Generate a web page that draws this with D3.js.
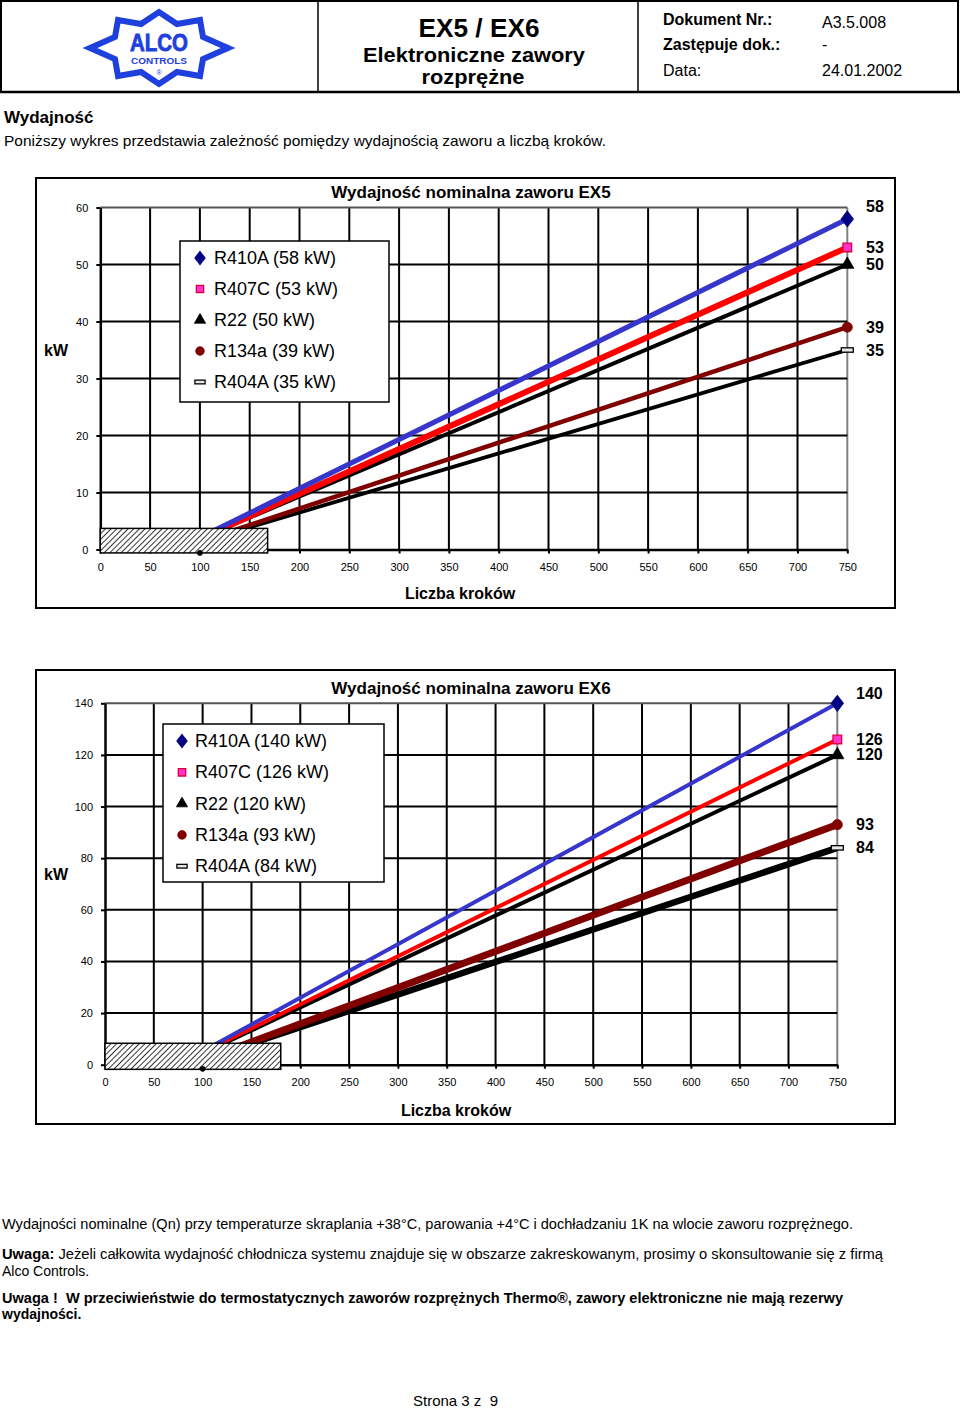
<!DOCTYPE html>
<html><head><meta charset="utf-8">
<script src="https://cdn.jsdelivr.net/npm/d3@7"></script>
<style>
body{margin:0;background:#fff}
svg{display:block}
text{font-family:"Liberation Sans",Arial,Helvetica,sans-serif}
</style>
</head><body>
<svg id="page" width="960" height="1408"></svg>
<script>
// ---------------- DATA ----------------
const refrigerants = ["R410A", "R407C", "R22", "R134a", "R404A"];
const stepPoints = [100, 750];                 // steps where each line is defined
const ex5StartKW = [2.1, 1.9, 1.9, 1.4, 1.3];  // kW at 100 steps (hidden by hatch)
const ex5EndKW = [58, 53, 50, 39, 35];         // kW at 750 steps
const ex6StartKW = [5.2, 4.7, 4.4, 1.8, 1.9];
const ex6EndKW = [140, 126, 120, 93, 84];
const xTicks = [0, 50, 100, 150, 200, 250, 300, 350, 400, 450, 500, 550, 600, 650, 700, 750];
const ex5YTicks = [0, 10, 20, 30, 40, 50, 60];
const ex6YTicks = [0, 20, 40, 60, 80, 100, 120, 140];
const ex5HatchSteps = [0, 168];
const ex5HatchKW = [-0.6, 3.7];
const ex6HatchSteps = [0, 180];
const ex6HatchKW = [-1.8, 8.3];
const ex5OriginDot = [100, -0.6];
const ex6OriginDot = [100, -1.6];

// ---------------- STYLE ----------------
const FONT = '"Liberation Sans",Arial,Helvetica,sans-serif';
const lineColors = ["#3636cc", "#ff0000", "#000000", "#800000", "#000000"];
const markerFill = ["#000080", "#ff33cc", "#000000", "#800000", "#e6e6e6"];
const markerStroke = ["#000080", "#e0003c", "#000000", "#800000", "#000000"];
const markerType = ["diamond", "square", "triangle", "circle", "dash"];

const svg = d3.select("#page");
svg.append("rect").attr("width", 960).attr("height", 1408).attr("fill", "#fff");

const defs = svg.append("defs");
const pat = defs.append("pattern").attr("id", "hatch").attr("patternUnits", "userSpaceOnUse")
  .attr("width", 4).attr("height", 4).attr("patternTransform", "rotate(45)");
pat.append("rect").attr("width", 4).attr("height", 4).attr("fill", "#fff");
pat.append("line").attr("x1", 0).attr("y1", 0).attr("x2", 0).attr("y2", 4)
  .attr("stroke", "#000").attr("stroke-width", 1.6);

function txt(g, x, y, s, size, opts = {}) {
  const t = g.append("text").attr("x", x).attr("y", y).attr("font-size", size)
    .attr("dominant-baseline", "central")
    .attr("text-anchor", opts.anchor || "start")
    .attr("font-weight", opts.bold ? "bold" : "normal")
    .attr("fill", opts.fill || "#000")
    .style("white-space", "pre")
    .text(s);
  if (opts.len) t.attr("textLength", opts.len).attr("lengthAdjust", "spacingAndGlyphs");
  return t;
}

// ---------------- HEADER ----------------
const hdr = svg.append("g");
hdr.append("rect").attr("x", 1).attr("y", 1).attr("width", 957).attr("height", 91)
  .attr("fill", "none").attr("stroke", "#000").attr("stroke-width", 2);
hdr.append("line").attr("x1", 0).attr("x2", 960).attr("y1", 92).attr("y2", 92).attr("stroke", "#000").attr("stroke-width", 2.5);
[318, 638].forEach(x => hdr.append("line").attr("x1", x).attr("x2", x).attr("y1", 1).attr("y2", 92)
  .attr("stroke", "#000").attr("stroke-width", 1.5));

// logo
const logo = hdr.append("g").attr("transform", "translate(159,48)");
const starPts = [[-69,0],[-44,-11],[-41,-28],[-18,-24],[0,-36],[18,-24],[41,-28],[44,-11],[69,0],[44,11],[41,28],[18,24],[0,36],[-18,24],[-41,28],[-44,11]];
logo.append("path").attr("d", d3.line()(starPts) + "Z")
  .attr("fill", "#fff").attr("stroke", "#2040dd").attr("stroke-width", 6).attr("stroke-linejoin", "miter");
logo.append("text").attr("x", 0).attr("y", 3).attr("text-anchor", "middle")
  .attr("font-size", 23).attr("font-weight", "bold").attr("fill", "#2040dd")
  .attr("stroke", "#2040dd").attr("stroke-width", 0.8)
  .attr("textLength", 58).attr("lengthAdjust", "spacingAndGlyphs").text("ALCO");
logo.append("text").attr("x", 0).attr("y", 16).attr("text-anchor", "middle")
  .attr("font-size", 9.5).attr("font-weight", "bold").attr("fill", "#2040dd")
  .attr("textLength", 56).attr("lengthAdjust", "spacingAndGlyphs").text("CONTROLS");
logo.append("text").attr("x", 0).attr("y", 27).attr("text-anchor", "middle")
  .attr("font-size", 7).attr("fill", "#2040dd").text("®");

txt(hdr, 479, 28, "EX5 / EX6", 25, {anchor: "middle", bold: true, len: 121});
txt(hdr, 474, 54, "Elektroniczne zawory", 20.5, {anchor: "middle", bold: true, len: 222});
txt(hdr, 473, 76.5, "rozprężne", 20.5, {anchor: "middle", bold: true, len: 103});
txt(hdr, 663, 19, "Dokument Nr.:", 16, {bold: true});
txt(hdr, 663, 44, "Zastępuje dok.:", 16, {bold: true});
txt(hdr, 663, 70, "Data:", 16);
txt(hdr, 822, 22, "A3.5.008", 16);
txt(hdr, 822, 44, "-", 16);
txt(hdr, 822, 70, "24.01.2002", 16);

// intro
txt(svg, 4, 117, "Wydajność", 17, {bold: true});
txt(svg, 4, 141, "Poniższy wykres przedstawia zależność pomiędzy wydajnością zaworu a liczbą kroków.", 14.5, {len: 602});

// ---------------- CHARTS ----------------
function drawChart(cfg) {
  const g = svg.append("g");
  g.append("rect").attr("x", cfg.frame[0]).attr("y", cfg.frame[1])
    .attr("width", cfg.frame[2] - cfg.frame[0]).attr("height", cfg.frame[3] - cfg.frame[1])
    .attr("fill", "#fff").attr("stroke", "#000").attr("stroke-width", 2);

  const x = d3.scaleLinear().domain([0, 750]).range(cfg.xRange);
  const y = d3.scaleLinear().domain([0, cfg.yMax]).range(cfg.yRange);

  // grid
  g.append("g").selectAll("line").data(xTicks.filter(d => d > 0)).join("line")
    .attr("x1", d => x(d)).attr("x2", d => x(d)).attr("y1", y(0)).attr("y2", y(cfg.yMax))
    .attr("stroke", d => d === 750 ? "#808080" : "#000").attr("stroke-width", 2);
  g.append("g").selectAll("line").data(cfg.yTicks.filter(d => d > 0)).join("line")
    .attr("x1", x(0)).attr("x2", x(750)).attr("y1", d => y(d)).attr("y2", d => y(d))
    .attr("stroke", d => d === cfg.yMax ? "#555" : "#000").attr("stroke-width", 2);

  // axes
  const ax = g.append("g").attr("transform", `translate(0,${y(0)})`)
    .call(d3.axisBottom(x).tickValues(xTicks).tickSize(4).tickSizeOuter(0).tickPadding(cfg.xPad).tickFormat(d3.format("d")));
  const ay = g.append("g").attr("transform", `translate(${x(0)},0)`)
    .call(d3.axisLeft(y).tickValues(cfg.yTicks).tickSize(4).tickSizeOuter(0).tickPadding(8).tickFormat(d3.format("d")));
  [ax, ay].forEach(a => {
    a.select(".domain").attr("stroke", "#000").attr("stroke-width", 2.5);
    a.selectAll(".tick line").attr("stroke", "#000").attr("stroke-width", 2);
    a.selectAll(".tick text").attr("font-size", 11).attr("font-family", FONT).attr("fill", "#000");
  });

  // lines
  const lineGen = d3.line().x(d => x(d[0])).y(d => y(d[1]));
  const seriesData = refrigerants.map((r, i) => stepPoints.map((s, j) => [s, j === 0 ? cfg.start[i] : cfg.end[i]]));
  const order = [4, 3, 2, 1, 0];
  order.forEach(i => {
    g.append("path").attr("d", lineGen(seriesData[i])).attr("fill", "none")
      .attr("stroke", lineColors[i]).attr("stroke-width", cfg.widths[i]).attr("stroke-linecap", "butt");
  });

  function marker(parent, type, i, cx, cy, scale = 1) {
    if (type === "dash") {
      parent.append("rect").attr("x", cx - 6 * scale).attr("y", cy - 2.2 * scale)
        .attr("width", 12 * scale).attr("height", 4.4 * scale)
        .attr("fill", markerFill[i]).attr("stroke", markerStroke[i]).attr("stroke-width", 1.3);
      return;
    }
    const sym = {diamond: d3.symbolDiamond, square: d3.symbolSquare, triangle: d3.symbolTriangle, circle: d3.symbolCircle}[type];
    const size = {diamond: 70, square: 75, triangle: 75, circle: 80}[type] * scale * scale;
    parent.append("path").attr("d", d3.symbol(sym, size)())
      .attr("transform", `translate(${cx},${cy})` + (type === "diamond" ? " scale(1.35,1)" : ""))
      .attr("fill", markerFill[i]).attr("stroke", markerStroke[i]).attr("stroke-width", type === "square" ? 1.3 : 0.8);
  }
  refrigerants.forEach((r, i) => marker(g, markerType[i], i, x(750), y(cfg.end[i])));

  // hatched low-capacity area
  g.append("rect").attr("x", x(cfg.hatchSteps[0])).attr("y", y(cfg.hatchKW[1]))
    .attr("width", x(cfg.hatchSteps[1]) - x(cfg.hatchSteps[0]))
    .attr("height", y(cfg.hatchKW[0]) - y(cfg.hatchKW[1]))
    .attr("fill", "url(#hatch)").attr("stroke", "#000").attr("stroke-width", 1.5);
  g.append("circle").attr("cx", x(cfg.dot[0])).attr("cy", y(cfg.dot[1])).attr("r", 2.8).attr("fill", "#000");

  // end value labels
  refrigerants.forEach((r, i) => {
    txt(g, cfg.valX, y(cfg.end[i]) + (i === 0 ? cfg.topLabelDy : 0), String(cfg.end[i]), 16, {bold: true});
  });

  // titles
  txt(g, cfg.titleX, cfg.titleY, cfg.title, 17, {bold: true, anchor: "middle"});
  txt(g, cfg.xLabelX, cfg.xLabelY, "Liczba kroków", 16, {bold: true, anchor: "middle"});
  txt(g, cfg.kwX, cfg.kwY, "kW", 16, {bold: true});

  // legend
  const L = cfg.legend;
  g.append("rect").attr("x", L.x).attr("y", L.y).attr("width", L.w).attr("height", L.h)
    .attr("fill", "#fff").attr("stroke", "#000").attr("stroke-width", 1.5);
  refrigerants.forEach((r, i) => {
    const ly = L.y + L.first + i * L.gap;
    marker(g, markerType[i], i, L.mx, ly, 0.85);
    txt(g, L.tx, ly, `${r} (${cfg.end[i]} kW)`, 18);
  });
}

drawChart({
  frame: [36, 178, 895, 608],
  xRange: [100.3, 847.3], yRange: [549.5, 207.5], yMax: 60, yTicks: ex5YTicks,
  start: ex5StartKW, end: ex5EndKW,
  widths: [5, 6, 4, 4.5, 3.8],
  hatchSteps: ex5HatchSteps, hatchKW: ex5HatchKW, dot: ex5OriginDot,
  xPad: 9.5, valX: 866, topLabelDy: -12,
  title: "Wydajność nominalna zaworu EX5", titleX: 471, titleY: 192,
  xLabelX: 460, xLabelY: 593, kwX: 44, kwY: 350,
  legend: {x: 180, y: 241, w: 209, h: 161, first: 17, gap: 31, mx: 200, tx: 214}
});

drawChart({
  frame: [36, 670, 895, 1124],
  xRange: [105, 837.3], yRange: [1064.7, 703.3], yMax: 140, yTicks: ex6YTicks,
  start: ex6StartKW, end: ex6EndKW,
  widths: [4, 4, 4, 7, 6.5],
  hatchSteps: ex6HatchSteps, hatchKW: ex6HatchKW, dot: ex6OriginDot,
  xPad: 10, valX: 856, topLabelDy: -10,
  title: "Wydajność nominalna zaworu EX6", titleX: 471, titleY: 688,
  xLabelX: 456, xLabelY: 1110, kwX: 44, kwY: 874,
  legend: {x: 163, y: 724, w: 221, h: 158, first: 17, gap: 31.3, mx: 182, tx: 195}
});

// ---------------- NOTES ----------------
txt(svg, 2, 1224, "Wydajności nominalne (Qn) przy temperaturze skraplania +38°C, parowania +4°C i dochładzaniu 1K na wlocie zaworu rozprężnego.", 14, {len: 851});
const n2 = svg.append("text").attr("x", 2).attr("y", 1254).attr("font-size", 14).attr("dominant-baseline", "central")
  .attr("textLength", 881).attr("lengthAdjust", "spacingAndGlyphs");
n2.append("tspan").attr("font-weight", "bold").text("Uwaga:");
n2.append("tspan").text(" Jeżeli całkowita wydajność chłodnicza systemu znajduje się w obszarze zakreskowanym, prosimy o skonsultowanie się z firmą");
txt(svg, 2, 1271, "Alco Controls.", 14);
txt(svg, 2, 1298, "Uwaga !  W przeciwieństwie do termostatycznych zaworów rozprężnych Thermo®, zawory elektroniczne nie mają rezerwy", 14, {bold: true, len: 841});
txt(svg, 2, 1314, "wydajności.", 14, {bold: true});
txt(svg, 413, 1400, "Strona 3 z  9", 15);
</script>
</body></html>
